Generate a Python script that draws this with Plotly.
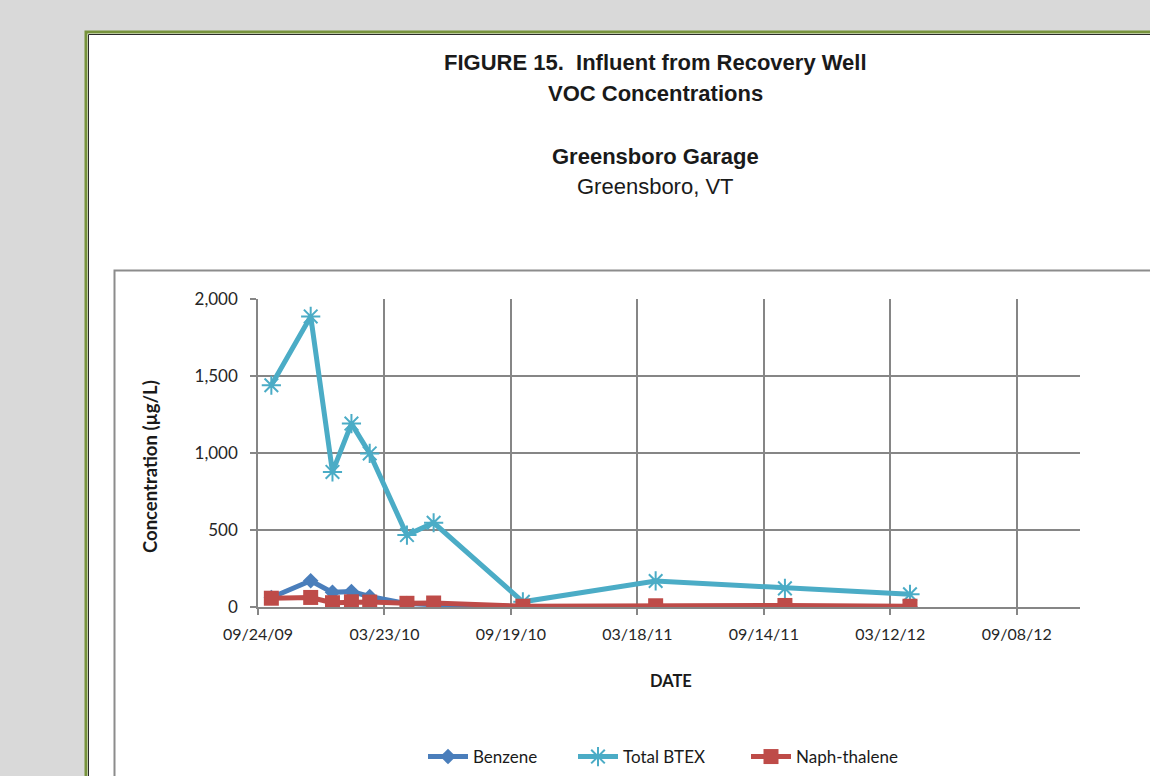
import plotly.graph_objects as go

# Sampling dates and VOC concentrations (ug/L)
dates = ["2009-10-13", "2009-12-08", "2010-01-08", "2010-02-04", "2010-03-02",
         "2010-04-24", "2010-06-01", "2010-10-06", "2011-04-13", "2011-10-14",
         "2012-04-09"]
benzene = [62, 170, 95, 100, 68, 22, 15, 3, 2, 2, 1]
total_btex = [1440, 1887, 877, 1191, 997, 467, 547, 34, 169, 121, 82]
naphthalene = [57, 62, 28, 34, 32, 24, 26, 5, 8, 10, 5]

y_ticks = [0, 500, 1000, 1500, 2000]

# Figure geometry (pixels)
FIG_W, FIG_H = 1150, 776
PL, PR, PT, PB = 258, 1080, 299, 607
PW, PH = PR - PL, PB - PT


def px(x):
    return (x - PL) / PW


def py(y):
    return (PB - y) / PH


LABEL_FONT = "Lato, Calibri, Carlito, sans-serif"
TITLE_FONT = "Arial, Liberation Sans, sans-serif"

fig = go.Figure()

fig.add_trace(go.Scatter(
    x=dates, y=benzene, name="Benzene", mode="lines+markers",
    line=dict(color="#4A7EBB", width=5),
    marker=dict(symbol="diamond", size=12, color="#4A7EBB"),
    legend="legend",
))
fig.add_trace(go.Scatter(
    x=dates, y=total_btex, name="Total BTEX", mode="lines+markers",
    line=dict(color="#4BACC6", width=5),
    marker=dict(symbol="asterisk-open", size=16,
                line=dict(color="#4BACC6", width=2)),
    legend="legend2",
))
fig.add_trace(go.Scatter(
    x=dates, y=naphthalene, name="Naph-thalene", mode="lines+markers",
    line=dict(color="#BE4B48", width=5),
    marker=dict(symbol="square", size=15, color="#BE4B48"),
    legend="legend3",
))

shapes = [
    # page sheet with green border
    dict(type="rect", xref="paper", yref="paper", layer="below",
         x0=px(86), y0=py(32), x1=px(1170), y1=py(800),
         fillcolor="white", line=dict(color="#77933C", width=3)),
    dict(type="rect", xref="paper", yref="paper", layer="below",
         x0=px(88.5), y0=py(34.5), x1=px(1170), y1=py(800),
         fillcolor="rgba(0,0,0,0)", line=dict(color="#2b2b2b", width=1)),
    # chart area frame
    dict(type="rect", xref="paper", yref="paper", layer="below",
         x0=px(114.5), y0=py(270.5), x1=px(1180), y1=py(800),
         fillcolor="white", line=dict(color="#8C8C8C", width=2)),
]

annotations = [
    dict(text="<b>FIGURE 15.  Influent from Recovery Well</b>", x=px(655), y=py(62)),
    dict(text="<b>VOC Concentrations</b>", x=px(655), y=py(93)),
    dict(text="<b>Greensboro Garage</b>", x=px(655), y=py(156)),
    dict(text="Greensboro, VT", x=px(655), y=py(186)),
]
for a in annotations:
    a.update(xref="paper", yref="paper", showarrow=False,
             xanchor="center", yanchor="middle",
             font=dict(family=TITLE_FONT, size=22, color="#1a1a1a"))

# axis titles
annotations += [
    dict(text="<b>Concentration (µg/L)</b>", x=px(150), y=py(467), textangle=-90,
         xref="paper", yref="paper", showarrow=False,
         xanchor="center", yanchor="middle",
         font=dict(family=LABEL_FONT, size=18.5, color="#1a1a1a")),
    dict(text="<b>DATE</b>", x=px(671), y=py(681),
         xref="paper", yref="paper", showarrow=False,
         xanchor="center", yanchor="middle",
         font=dict(family=LABEL_FONT, size=16.5, color="#1a1a1a")),
]

legend_common = dict(orientation="h", xref="container", yref="container",
                     xanchor="left", yanchor="middle", itemwidth=40,
                     bgcolor="rgba(0,0,0,0)",
                     font=dict(family=LABEL_FONT, size=17, color="#1a1a1a"))

fig.update_layout(
    width=FIG_W, height=FIG_H,
    margin=dict(l=PL, r=FIG_W - PR, t=PT, b=FIG_H - PB, pad=0, autoexpand=False),
    paper_bgcolor="#D9D9D9",
    plot_bgcolor="white",
    shapes=shapes,
    annotations=annotations,
    showlegend=True,
    legend=dict(x=423 / FIG_W, y=1 - 757 / FIG_H, **legend_common),
    legend2=dict(x=573 / FIG_W, y=1 - 757 / FIG_H, **legend_common),
    legend3=dict(x=746 / FIG_W, y=1 - 757 / FIG_H, **legend_common),
    xaxis=dict(
        type="date",
        range=["2009-09-24", "2012-12-07"],
        tick0="2009-09-24", dtick=180 * 86400000,
        tickformat="%m/%d/%y",
        showgrid=True, gridcolor="#868686", gridwidth=1.5,
        showline=True, linecolor="#868686", linewidth=1.5,
        ticks="outside", ticklen=6, tickcolor="#868686", tickwidth=1.5,
        ticklabelstandoff=6,
        tickfont=dict(family=LABEL_FONT, size=16, color="#262626"),
        zeroline=False, automargin=False,
    ),
    yaxis=dict(
        range=[0, 2000],
        tickvals=y_ticks, tickformat=",d",
        showgrid=True, gridcolor="#868686", gridwidth=1.5,
        showline=True, linecolor="#868686", linewidth=1.5,
        ticks="outside", ticklen=6, tickcolor="#868686", tickwidth=1.5,
        ticklabelstandoff=9,
        tickfont=dict(family=LABEL_FONT, size=17, color="#262626"),
        zeroline=False, automargin=False,
    ),
)

fig.write_html("out.html")
